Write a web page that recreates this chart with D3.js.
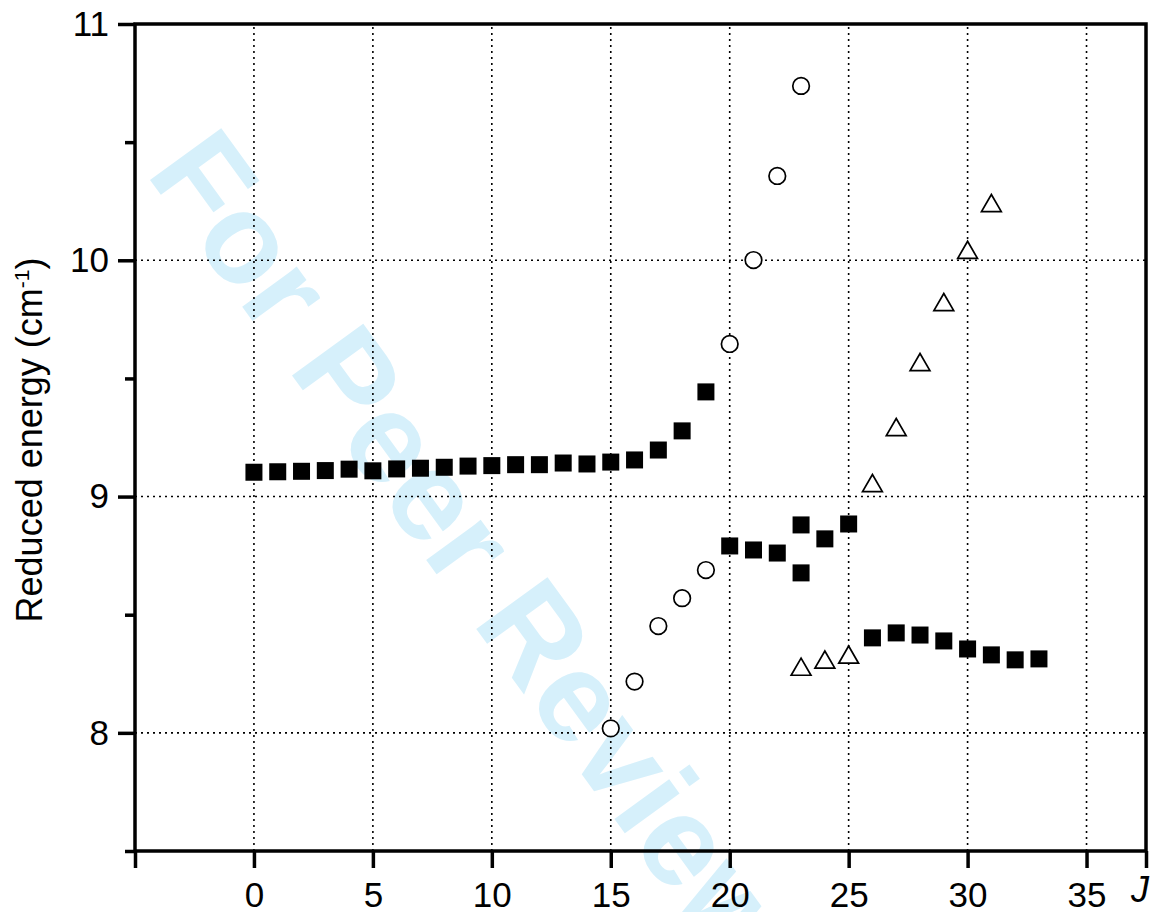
<!DOCTYPE html>
<html>
<head>
<meta charset="utf-8">
<script src="https://cdn.jsdelivr.net/npm/d3@7"></script>
<style>
  body { margin: 0; background: #fff; }
  text { font-family: "Liberation Sans", Arial, Helvetica, sans-serif; }
</style>
</head>
<body>
<div id="main"></div>
<script>
const Width = 1158, Height = 912;

// filled squares (J, reduced energy)
const jSquare = [0, 1, 2, 3, 4, 5, 6, 7, 8, 9, 10, 11, 12, 13, 14, 15, 16, 17, 18, 19,
    20, 21, 22, 23, 23, 24, 25,
    26, 27, 28, 29, 30, 31, 32, 33];
const eSquare = [9.103, 9.105, 9.107, 9.110, 9.116, 9.109, 9.117, 9.120, 9.124, 9.129,
    9.131, 9.135, 9.135, 9.142, 9.138, 9.146, 9.155, 9.197, 9.278, 9.443,
    8.791, 8.774, 8.761, 8.880, 8.677, 8.821, 8.884,
    8.402, 8.423, 8.414, 8.389, 8.355, 8.330, 8.309, 8.313];

// open circles
const jCircle = [15, 16, 17, 18, 19, 20, 21, 22, 23];
const eCircle = [8.019, 8.217, 8.452, 8.570, 8.689, 9.646, 10.001, 10.357, 10.738];

// open triangles
const jTriangle = [23, 24, 25, 26, 27, 28, 29, 30, 31];
const eTriangle = [8.268, 8.298, 8.319, 9.045, 9.282, 9.557, 9.811, 10.032, 10.230];

const xTicks = [-5, 0, 5, 10, 15, 20, 25, 30, 35, 37.5];
const yTicks = [8, 9, 10, 11];
const yMinor = [7.5, 8.5, 9.5, 10.5];
const xGrid = [0, 5, 10, 15, 20, 25, 30, 35];
const yGrid = [8, 9, 10];

const svg = d3.select("#main")
    .append("svg")
    .attr("width", Width)
    .attr("height", Height);

let x = d3.scaleLinear().domain([-5, 37.5]).range([135, 1146]);
let y = d3.scaleLinear().domain([7.5, 11]).range([851, 24]);

// watermark
svg.append("text")
    .attr("transform", "translate(145,173) rotate(54)")
    .attr("font-size", 128)
    .attr("font-weight", "bold")
    .attr("fill", "#d6f0fb")
    .text("For Peer Review");

// dotted grid
svg.append("g").selectAll("line").data(xGrid).enter().append("line")
    .attr("x1", d => x(d)).attr("x2", d => x(d))
    .attr("y1", y(7.5)).attr("y2", y(11))
    .attr("stroke", "#000").attr("stroke-width", 1.6).attr("stroke-dasharray", "2,4");
svg.append("g").selectAll("line").data(yGrid).enter().append("line")
    .attr("x1", x(-5)).attr("x2", x(37.5))
    .attr("y1", d => y(d)).attr("y2", d => y(d))
    .attr("stroke", "#000").attr("stroke-width", 1.6).attr("stroke-dasharray", "2,4");

// axes
const yAxis = svg.append('g')
    .attr('transform', `translate(${x(-5)},0)`)
    .call(d3.axisLeft(y).tickValues(yTicks).tickSize(17).tickPadding(9).tickFormat(d3.format("d")));
const yAxisMinor = svg.append('g')
    .attr('transform', `translate(${x(-5)},0)`)
    .call(d3.axisLeft(y).tickValues(yMinor).tickSize(10).tickFormat(""));
const xAxis = svg.append('g')
    .attr('transform', `translate(0,${y(7.5)})`)
    .call(d3.axisBottom(x).tickValues(xTicks).tickSize(17).tickPadding(14)
        .tickFormat(d => (d < 0 || d > 35) ? "" : d));

[yAxis, yAxisMinor, xAxis].forEach(g => {
    g.select(".domain").remove();
    g.selectAll(".tick line").attr("stroke", "#000").attr("stroke-width", 3.5);
    g.selectAll(".tick text").attr("fill", "#000").attr("font-size", 35)
        .style("font-family", '"Liberation Sans", Arial, Helvetica, sans-serif');
});

// frame
svg.append("rect")
    .attr("x", x(-5)).attr("y", y(11))
    .attr("width", x(37.5) - x(-5)).attr("height", y(7.5) - y(11))
    .attr("fill", "none").attr("stroke", "#000").attr("stroke-width", 3.5);

// markers
const sq = 17;
svg.append("g").selectAll("rect").data(d3.range(jSquare.length)).enter().append("rect")
    .attr("x", i => x(jSquare[i]) - sq / 2)
    .attr("y", i => y(eSquare[i]) - sq / 2)
    .attr("width", sq).attr("height", sq)
    .attr("fill", "#000");

svg.append("g").selectAll("circle").data(d3.range(jCircle.length)).enter().append("circle")
    .attr("cx", i => x(jCircle[i])).attr("cy", i => y(eCircle[i]))
    .attr("r", 8.3)
    .attr("fill", "#fff").attr("stroke", "#000").attr("stroke-width", 1.7);

svg.append("g").selectAll("path").data(d3.range(jTriangle.length)).enter().append("path")
    .attr("d", d3.symbol().type(d3.symbolTriangle).size(170))
    .attr("transform", i => `translate(${x(jTriangle[i])},${y(eTriangle[i])})`)
    .attr("fill", "#fff").attr("stroke", "#000").attr("stroke-width", 1.7);

// axis titles
svg.append("text")
    .attr("transform", "translate(42,440) rotate(-90)")
    .attr("text-anchor", "middle")
    .attr("font-size", 36)
    .attr("fill", "#000")
    .html('Reduced energy (cm<tspan dy="-13" font-size="21">-1</tspan><tspan dy="13">)</tspan>');

svg.append("text")
    .attr("x", 1131).attr("y", 902)
    .attr("font-size", 36)
    .attr("font-style", "italic")
    .attr("fill", "#000")
    .text("J");
</script>
</body>
</html>
